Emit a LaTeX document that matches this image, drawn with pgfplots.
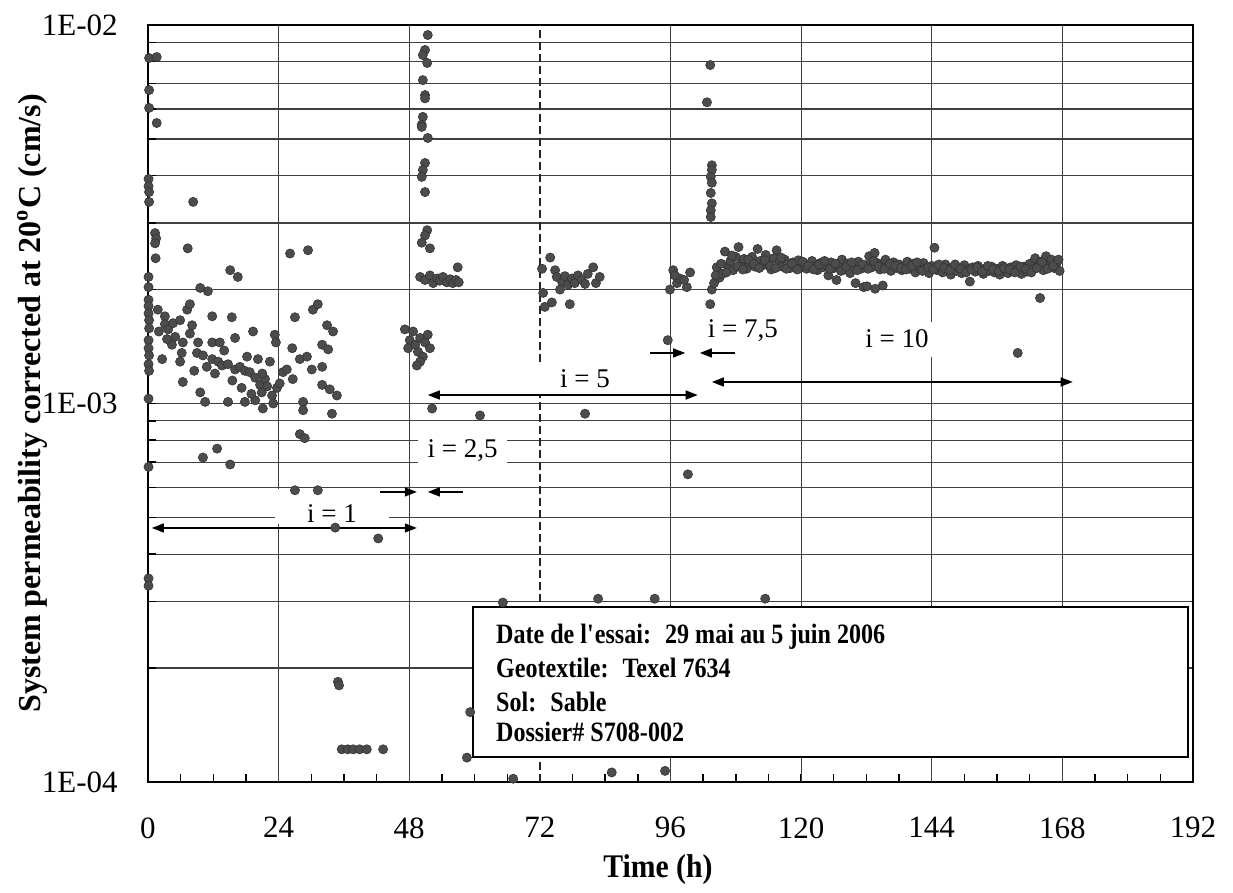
\documentclass[border=0pt]{standalone}
\usepackage{pgfplots}
\pgfplotsset{compat=1.18}
\usepackage{fontspec}
\setmainfont{Liberation Serif}
\newfontfamily\condfont{Liberation Serif}[FakeStretch=0.86]
\newfontfamily\xlabfont{Liberation Serif}[FakeStretch=0.9]
\usetikzlibrary{arrows.meta}
\begin{document}
\begin{tikzpicture}
\begin{axis}[
  at={(0,0)}, anchor=south west,
  scale only axis, width=522.5pt, height=378.5pt,
  xmin=0, xmax=192, ymode=log, ymin=1e-4, ymax=1e-2,
  xtick={0,24,...,192}, xticklabels={0,24,48,72,96,120,144,168,192},
  minor x tick num=3,
  ytick={1e-4,1e-3,1e-2}, yticklabels={1E-04,1E-03,1E-02},
  minor ytick={2e-4,3e-4,4e-4,5e-4,6e-4,7e-4,8e-4,9e-4,2e-3,3e-3,4e-3,5e-3,6e-3,7e-3,8e-3,9e-3},
  ymajorgrids, yminorgrids,
  grid style={black!75, line width=0.6pt},
  minor grid style={black!75, line width=0.6pt},
  xtick pos=left, ytick pos=left, tick align=inside,
  major tick length=4pt, minor tick length=4pt,
  tick style={black, line width=0.7pt},
  axis line style={black, line width=1.1pt},
  tick label style={font=\fontsize{15.5}{18}\selectfont},
  yticklabel style={inner sep=0pt, xshift=-15pt},
  xticklabel style={inner sep=0pt, yshift=-17.5pt},
  xlabel={Time (h)},
  ylabel={System permeability corrected at 20\textsuperscript{o}C (cm/s)},
  xlabel style={at={(axis description cs:0.488,-0.1162)}, anchor=center, font=\xlabfont\fontsize{16.5}{19}\selectfont\bfseries},
  ylabel style={at={(axis description cs:-0.111,0.5)}, anchor=center, font=\fontsize{16}{19}\selectfont\bfseries},
  pt/.style={only marks, mark=*, mark size=2.3pt, mark options={fill=black!70, draw=black!80, line width=0.3pt}},
]
% vertical grid lines
\pgfplotsinvokeforeach{24,48,96,120,144,168}{\draw[black!75, line width=0.6pt] (axis cs:#1,1e-4) -- (axis cs:#1,1e-2);}
\draw[black!85, line width=0.8pt, dash pattern=on 4pt off 2pt] (axis cs:72,1e-4) -- (axis cs:72,1e-2);

% i = 1 start, left edge
\addplot[pt] coordinates {
(0.2,8.18e-3) (1.6,8.23e-3) (0.2,6.73e-3) (0.2,6.04e-3) (1.6,5.51e-3) (0.1,3.92e-3) (0.1,3.75e-3) (0.2,3.62e-3) (0.2,3.41e-3)
(1.3,2.82e-3) (1.5,2.73e-3) (1.3,2.65e-3) (1.4,2.42e-3) (7.3,2.57e-3) (8.3,3.41e-3) (0.1,2.16e-3) (0.1,2.03e-3) (0.1,1.88e-3)
(0.1,1.81e-3) (0.1,1.73e-3) (0.2,1.66e-3) (0.2,1.58e-3) (0.1,1.47e-3) (0.1,1.40e-3) (0.2,1.34e-3) (0.1,1.27e-3) (0.2,1.22e-3)
(0.1,1.03e-3) (0.1,6.8e-4) (0.1,3.45e-4) (0.1,3.30e-4)
};
% i = 1 cluster
\addplot[pt] coordinates {
(1.8,1.77e-3) (3.1,1.70e-3) (3.1,1.62e-3) (3.7,1.57e-3) (4.6,1.63e-3) (5.9,1.66e-3) (7.2,1.77e-3) (7.7,1.83e-3) (8.1,1.61e-3)
(7.7,1.53e-3) (11.8,1.70e-3) (15.4,1.69e-3) (19.3,1.55e-3) (23.3,1.52e-3) (23.5,1.45e-3) (27.0,1.69e-3) (30.3,1.77e-3)
(31.2,1.83e-3) (32.9,1.61e-3) (34.0,1.55e-3)
(4.4,1.43e-3) (6.2,1.36e-3) (6.4,1.45e-3) (9.2,1.45e-3) (11.8,1.45e-3) (13.2,1.45e-3) (16.0,1.49e-3)
(2.6,1.31e-3) (5.9,1.29e-3) (9.0,1.36e-3) (10.1,1.34e-3) (10.8,1.25e-3) (11.8,1.31e-3) (12.9,1.29e-3) (13.6,1.26e-3)
(14.7,1.27e-3) (16.0,1.23e-3) (16.9,1.25e-3) (17.8,1.22e-3) (18.7,1.21e-3) (19.7,1.17e-3) (20.2,1.31e-3) (20.6,1.12e-3)
(21.5,1.16e-3) (21.9,1.11e-3) (22.4,1.29e-3) (20.9,1.07e-3)
(6.4,1.14e-3) (9.6,1.07e-3) (10.5,1.01e-3) (14.7,1.01e-3) (17.8,1.01e-3) (19.7,1.02e-3) (21.1,9.7e-4) (23.0,1.00e-3)
(23.7,1.10e-3) (24.8,1.21e-3) (25.5,1.23e-3) (26.6,1.16e-3) (27.9,1.31e-3) (29.2,1.33e-3) (26.5,1.40e-3) (30.1,1.23e-3)
(32.0,1.25e-3) (32.0,1.43e-3) (33.1,1.39e-3) (32.0,1.12e-3) (33.4,1.09e-3) (34.7,1.05e-3) (28.5,1.01e-3) (28.5,9.6e-4) (33.8,9.4e-4)
(14.0,1.38e-3) (18.2,1.33e-3) (12.3,1.20e-3) (15.5,1.15e-3) (17.2,1.10e-3) (19.0,1.06e-3) (22.8,1.05e-3) (24.2,1.13e-3)
(21.0,1.20e-3) (8.5,1.22e-3) (5.0,1.50e-3) (2.0,1.55e-3) (3.5,1.48e-3)
(9.6,2.02e-3) (11.0,1.98e-3) (15.1,2.25e-3) (16.5,2.16e-3) (26.1,2.49e-3) (29.4,2.54e-3)
(27.9,8.3e-4) (28.8,8.1e-4) (12.7,7.6e-4) (10.1,7.2e-4) (15.1,6.9e-4) (27.0,5.9e-4) (31.2,5.9e-4) (34.4,4.7e-4) (42.3,4.4e-4)
(34.9,1.84e-4) (35.1,1.80e-4) (35.6,1.22e-4) (36.7,1.22e-4) (37.7,1.22e-4) (38.9,1.22e-4) (40.2,1.22e-4) (43.2,1.22e-4)
};
% i = 2,5 and start of i = 5
\addplot[pt] coordinates {
(51.4,9.41e-3) (50.9,8.59e-3) (50.5,8.33e-3) (51.3,7.94e-3) (50.5,7.15e-3) (50.9,6.53e-3) (50.9,6.40e-3) (50.5,5.72e-3)
(50.3,5.45e-3) (50.3,5.38e-3) (51.4,5.03e-3) (50.9,4.32e-3) (50.5,4.14e-3) (50.3,3.97e-3) (50.9,3.62e-3) (51.3,2.87e-3)
(50.9,2.78e-3) (50.3,2.66e-3) (51.8,2.57e-3) (56.9,2.29e-3)
(50.0,2.16e-3) (50.9,2.12e-3) (51.8,2.18e-3) (52.4,2.08e-3) (53.1,2.14e-3) (53.6,2.11e-3) (54.2,2.16e-3) (54.9,2.09e-3)
(55.5,2.13e-3) (56.0,2.08e-3) (56.6,2.12e-3) (57.1,2.09e-3)
(47.2,1.57e-3) (48.1,1.47e-3) (47.8,1.40e-3) (48.7,1.55e-3) (49.1,1.43e-3) (49.6,1.37e-3) (50.0,1.49e-3) (50.9,1.45e-3)
(51.4,1.52e-3) (50.5,1.33e-3) (50.0,1.29e-3) (49.4,1.26e-3) (51.8,1.40e-3)
(52.2,9.7e-4) (61.0,9.3e-4) (65.2,2.98e-4) (59.2,1.53e-4) (58.6,1.16e-4) (67.1,1.02e-4)
};
% i = 5 middle
\addplot[pt] coordinates {
(72.4,2.27e-3) (73.9,2.43e-3) (74.8,2.25e-3) (72.6,1.96e-3) (72.9,1.80e-3) (74.2,1.85e-3) (77.5,1.83e-3) (75.1,2.16e-3)
(76.1,2.09e-3) (76.6,2.17e-3) (77.2,2.06e-3) (77.9,2.14e-3) (78.4,2.08e-3) (79.0,2.18e-3) (79.7,2.12e-3) (80.3,2.07e-3)
(80.8,2.20e-3) (81.8,2.29e-3) (82.3,2.08e-3) (83.0,2.16e-3) (75.7,2.00e-3) (80.3,9.4e-4) (82.7,3.05e-4) (85.2,1.06e-4)
};
% i = 5 end
\addplot[pt] coordinates {
(96.5,2.25e-3) (99.6,2.22e-3) (97.2,2.08e-3) (99.0,2.03e-3) (95.9,2.00e-3) (97.7,2.14e-3) (98.5,2.12e-3) (96.8,2.18e-3)
(95.5,1.47e-3) (93.1,3.05e-4) (95.0,1.07e-4) (99.2,6.5e-4)
};
% i = 7,5
\addplot[pt] coordinates {
(103.3,7.84e-3) (102.7,6.25e-3) (103.6,4.26e-3) (103.6,4.14e-3) (103.4,3.97e-3) (103.6,3.83e-3) (103.4,3.60e-3)
(103.6,3.38e-3) (103.4,3.24e-3) (103.4,3.11e-3) (103.3,1.83e-3) (103.6,2.00e-3)
};
% i = 10
\addplot[pt] coordinates {
(104.0,2.08e-3) (104.5,2.29e-3) (105.0,2.15e-3) (105.5,2.20e-3) (106.0,2.52e-3) (106.5,2.31e-3) (107.0,2.38e-3) (107.5,2.25e-3)
(108.0,2.44e-3) (108.5,2.59e-3) (109.0,2.33e-3) (109.5,2.41e-3) (110.0,2.27e-3) (110.5,2.36e-3) (111.0,2.44e-3) (111.5,2.30e-3)
(112.0,2.56e-3) (112.5,2.38e-3) (113.0,2.32e-3) (113.5,2.47e-3) (114.0,2.35e-3) (114.5,2.26e-3) (115.0,2.42e-3) (115.5,2.54e-3)
(116.0,2.37e-3) (116.5,2.30e-3) (117.0,2.40e-3) (117.5,2.33e-3) (118.0,2.28e-3) (118.5,2.36e-3) (119.0,2.31e-3) (119.5,2.39e-3)
(120.0,2.29e-3) (120.5,2.34e-3) (121.0,2.27e-3) (121.5,2.33e-3) (122.0,2.38e-3) (122.5,2.30e-3) (123.0,2.25e-3) (123.5,2.35e-3)
(124.0,2.29e-3) (124.5,2.32e-3) (125.0,2.18e-3) (125.5,2.36e-3) (126.0,2.28e-3) (126.5,2.12e-3) (127.0,2.31e-3) (127.5,2.40e-3)
(128.0,2.26e-3) (128.5,2.34e-3) (129.0,2.21e-3) (129.5,2.30e-3) (130.0,2.08e-3) (130.5,2.37e-3) (131.0,2.27e-3) (131.5,2.03e-3)
(132.0,2.32e-3) (132.5,2.45e-3) (133.0,2.29e-3) (133.5,2.50e-3) (134.0,2.35e-3) (134.5,2.26e-3) (135.0,2.33e-3) (135.5,2.40e-3)
(136.0,2.30e-3) (136.5,2.24e-3) (137.0,2.36e-3) (137.5,2.28e-3) (138.0,2.33e-3) (138.5,2.25e-3) (139.0,2.31e-3) (139.5,2.37e-3)
(140.0,2.27e-3) (140.5,2.34e-3) (141.0,2.22e-3) (141.5,2.30e-3) (142.0,2.26e-3) (142.5,2.35e-3) (143.0,2.28e-3) (143.5,2.21e-3)
(144.0,2.31e-3) (144.5,2.58e-3) (145.0,2.25e-3) (145.5,2.29e-3) (146.0,2.22e-3) (146.5,2.33e-3) (147.0,2.27e-3) (147.5,2.19e-3)
(148.0,2.30e-3) (148.5,2.24e-3) (149.0,2.28e-3) (149.5,2.21e-3) (150.0,2.32e-3) (150.5,2.25e-3) (151.0,2.10e-3) (151.5,2.29e-3)
(152.0,2.23e-3) (152.5,2.31e-3) (153.0,2.26e-3) (153.5,2.20e-3) (154.0,2.28e-3) (154.5,2.24e-3) (155.0,2.30e-3) (155.5,2.22e-3)
(156.0,2.27e-3) (156.5,2.19e-3) (157.0,2.31e-3) (157.5,2.25e-3) (158.0,2.21e-3) (158.5,2.29e-3) (159.0,2.24e-3) (159.5,2.32e-3)
(160.0,2.27e-3) (160.5,2.20e-3) (161.0,2.30e-3) (161.5,2.23e-3) (162.0,2.34e-3) (162.5,2.26e-3) (163.0,2.42e-3) (163.5,2.30e-3)
(164.0,2.37e-3) (164.5,2.25e-3) (165.0,2.45e-3) (165.5,2.33e-3) (166.0,2.40e-3) (166.5,2.28e-3) (167.0,2.36e-3) (167.5,2.24e-3)
(104.3,2.18e-3) (105.3,2.34e-3) (106.3,2.22e-3) (107.3,2.46e-3) (108.3,2.30e-3) (109.3,2.26e-3) (110.3,2.40e-3) (111.3,2.34e-3)
(112.3,2.28e-3) (113.3,2.39e-3) (114.3,2.31e-3) (115.3,2.28e-3) (116.3,2.43e-3) (117.3,2.27e-3) (118.3,2.34e-3) (119.3,2.26e-3)
(120.3,2.37e-3) (121.3,2.31e-3) (122.3,2.26e-3) (123.3,2.33e-3) (124.3,2.38e-3) (125.3,2.27e-3) (126.3,2.34e-3) (127.3,2.24e-3)
(128.3,2.30e-3) (129.3,2.36e-3) (130.3,2.25e-3) (131.3,2.33e-3) (132.3,2.27e-3) (133.3,2.38e-3) (134.3,2.30e-3) (135.3,2.27e-3)
(136.3,2.34e-3) (137.3,2.31e-3) (138.3,2.28e-3) (139.3,2.26e-3) (140.3,2.31e-3) (141.3,2.36e-3) (142.3,2.24e-3) (143.3,2.29e-3)
(144.3,2.26e-3) (145.3,2.33e-3) (146.3,2.28e-3) (147.3,2.25e-3) (148.3,2.33e-3) (149.3,2.27e-3) (150.3,2.22e-3) (151.3,2.26e-3)
(152.3,2.29e-3) (153.3,2.23e-3) (154.3,2.31e-3) (155.3,2.26e-3) (156.3,2.24e-3) (157.3,2.28e-3) (158.3,2.26e-3) (159.3,2.22e-3)
(160.3,2.30e-3) (161.3,2.27e-3) (162.3,2.22e-3) (163.3,2.28e-3) (164.3,2.36e-3) (165.3,2.27e-3) (166.3,2.31e-3) (167.3,2.40e-3)
(132.1,2.04e-3) (133.6,2.01e-3) (135.0,2.05e-3) (159.8,1.36e-3) (163.9,1.90e-3) (113.4,3.05e-4)
};

% annotation labels (white boxes)
\node[fill=white, inner sep=0pt, minimum width=57pt, minimum height=17.5pt] at (axis cs:33.8,5.36e-4) {};
\node[inner sep=0pt, font=\fontsize{13.5}{16}\selectfont] at (axis cs:33.8,5.12e-4) {i = 1};
\node[fill=white, inner sep=0pt, minimum width=44.5pt, minimum height=21pt, font=\fontsize{13.5}{16}\selectfont] at (axis cs:57.8,7.5e-4) {i = 2,5};
\node[fill=white, inner sep=0pt, minimum width=55pt, minimum height=16.5pt, font=\fontsize{13.5}{16}\selectfont] at (axis cs:80.3,1.16e-3) {i = 5};
\node[fill=white, inner sep=1pt, font=\fontsize{13.5}{16}\selectfont] at (axis cs:109.3,1.56e-3) {i = 7,5};
\node[fill=white, inner sep=0pt, minimum width=42.5pt, minimum height=17.5pt, font=\fontsize{13.5}{16}\selectfont] at (axis cs:137.6,1.48e-3) {i = 10};

% arrows
\draw[line width=0.7pt, {Triangle[length=6pt,width=4.5pt]}-{Triangle[length=6pt,width=4.5pt]}] (axis cs:0.7,4.69e-4) -- (axis cs:49.4,4.69e-4);
\draw[line width=0.7pt, -{Triangle[length=6pt,width=4.5pt]}] (axis cs:42.6,5.84e-4) -- (axis cs:49.4,5.84e-4);
\draw[line width=0.7pt, -{Triangle[length=6pt,width=4.5pt]}] (axis cs:57.9,5.84e-4) -- (axis cs:51.4,5.84e-4);
\draw[line width=0.7pt, {Triangle[length=6pt,width=4.5pt]}-{Triangle[length=6pt,width=4.5pt]}] (axis cs:51.4,1.053e-3) -- (axis cs:101.0,1.053e-3);
\draw[line width=0.7pt, -{Triangle[length=6pt,width=4.5pt]}] (axis cs:92.2,1.36e-3) -- (axis cs:98.7,1.36e-3);
\draw[line width=0.7pt, -{Triangle[length=6pt,width=4.5pt]}] (axis cs:107.9,1.36e-3) -- (axis cs:101.4,1.36e-3);
\draw[line width=0.7pt, {Triangle[length=6pt,width=4.5pt]}-{Triangle[length=6pt,width=4.5pt]}] (axis cs:103.6,1.14e-3) -- (axis cs:169.9,1.14e-3);

% info box
\draw[line width=1.3pt, fill=white] (axis cs:59.7,2.90e-4) rectangle (axis cs:191.1,1.164e-4);
\node[anchor=west, inner sep=0pt, font=\condfont\fontsize{14}{16}\selectfont\bfseries] at (axis cs:63.9,2.415e-4) {Date de l\textquotesingle essai:~ 29 mai au 5 juin 2006};
\node[anchor=west, inner sep=0pt, font=\condfont\fontsize{14}{16}\selectfont\bfseries] at (axis cs:63.9,2.00e-4) {Geotextile:~ Texel 7634};
\node[anchor=west, inner sep=0pt, font=\condfont\fontsize{14}{16}\selectfont\bfseries] at (axis cs:63.9,1.627e-4) {Sol:~ Sable};
\node[anchor=west, inner sep=0pt, font=\condfont\fontsize{14}{16}\selectfont\bfseries] at (axis cs:63.9,1.355e-4) {Dossier\# S708-002};
\end{axis}
\pgfresetboundingbox
\path[use as bounding box] (-74pt,-55.5pt) rectangle (542.5pt,391pt);
\end{tikzpicture}
\end{document}
